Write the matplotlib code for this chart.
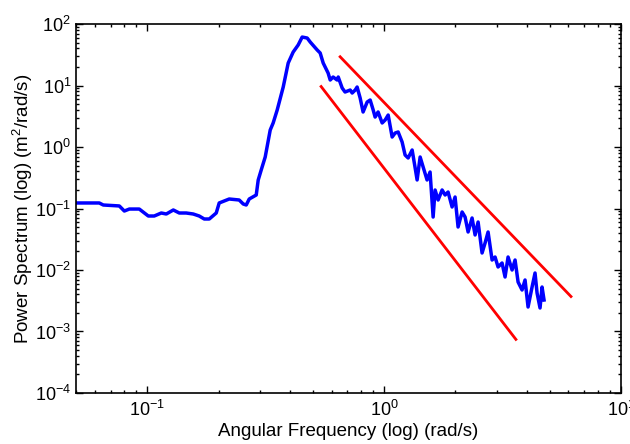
import numpy as np
import matplotlib
matplotlib.use("Agg")
from matplotlib import pyplot as plt

# spectrum (angular frequency rad/s, power m^2/rad/s)
freq = [0.0502, 0.0627, 0.0652, 0.0762, 0.080, 0.0840, 0.0925, 0.101, 0.107,
        0.1146, 0.1203, 0.1288, 0.1365, 0.146, 0.1563, 0.1657, 0.174, 0.1827,
        0.1955, 0.2012, 0.2218, 0.2444, 0.2542, 0.2617, 0.2694, 0.2884, 0.294,
        0.3027, 0.3147, 0.3304, 0.340, 0.3536, 0.3749, 0.3935, 0.413, 0.4336,
        0.4508, 0.4733, 0.4874, 0.5217,
        0.537, 0.553, 0.580, 0.592, 0.609, 0.633, 0.640, 0.665, 0.684, 0.719,
        0.733, 0.755, 0.769, 0.792, 0.815, 0.848, 0.873, 0.899, 0.916, 0.943,
        0.981, 1.010, 1.040, 1.081, 1.113, 1.146, 1.191, 1.226, 1.263, 1.313,
        1.352, 1.378, 1.419, 1.461, 1.518, 1.563, 1.610, 1.641, 1.690, 1.757,
        1.809, 1.862, 1.936, 1.993, 2.052, 2.134, 2.197, 2.262, 2.351, 2.421,
        2.493, 2.591, 2.668, 2.747, 2.856, 2.940, 3.027, 3.147, 3.240, 3.336,
        3.469, 3.571, 3.677, 3.822, 3.935, 4.052, 4.213, 4.336, 4.422, 4.552,
        4.642, 4.733]
power = [0.123, 0.123, 0.114, 0.110, 0.091, 0.098, 0.098, 0.0755, 0.0755,
         0.0845, 0.0814, 0.0946, 0.0845, 0.0845, 0.0814, 0.0755, 0.0675, 0.0675,
         0.0845, 0.123, 0.1427, 0.1375, 0.1184, 0.114, 0.1427, 0.1658, 0.2905,
         0.4227, 0.688, 1.89, 2.46, 4.0, 9.45, 23.2, 35.0, 45.6,
         61.4, 59.2, 51.0, 37.8,
         33.8, 23.2, 15.97, 12.29, 13.75, 12.29, 13.75, 9.11, 7.84, 8.45,
         7.55, 8.45, 9.45, 6.26, 3.71, 5.39, 5.81, 4.00, 3.07, 3.71,
         2.46, 2.75, 3.31, 1.454, 1.689, 1.754, 1.206, 0.741, 0.663, 0.894,
         0.456, 0.291, 0.688, 0.473, 0.291, 0.392, 0.0727, 0.200, 0.1375, 0.200,
         0.1658, 0.1855, 0.1058, 0.1538, 0.0500, 0.0877, 0.0727, 0.0415, 0.0701, 0.0371,
         0.0603, 0.0189, 0.0275, 0.0415, 0.01454, 0.01627, 0.01119, 0.0130, 0.00769, 0.01627,
         0.0100, 0.01454, 0.00638, 0.00473, 0.00688, 0.00250, 0.00529, 0.00894, 0.00423, 0.00241,
         0.00529, 0.00325]

# reference power laws
upper_f = [0.652, 6.15]
upper_coef, upper_exp = 5.3, -4
lower_f = [0.542, 3.6]
lower_coef, lower_exp = 0.45, -5

plt.rcParams['font.family'] = ['Liberation Sans', 'DejaVu Sans']
plt.rcParams['mathtext.fontset'] = 'custom'
plt.rcParams['mathtext.rm'] = 'Liberation Sans'

fig = plt.figure(figsize=(6.3, 4.44), dpi=100)
ax = fig.add_axes([0.1206, 0.1149, 0.8651, 0.831])

ax.loglog(freq, power, color=(0, 0, 1), lw=2.5)
uf = np.array(upper_f)
lf = np.array(lower_f)
ax.loglog(uf, upper_coef * uf ** upper_exp, color=(1, 0, 0), lw=2)
ax.loglog(lf, lower_coef * lf ** lower_exp, color=(1, 0, 0), lw=2)

ax.set_xlim(0.05, 10)
ax.set_ylim(1e-4, 1e2)
ax.tick_params(which='both', direction='in', top=True, right=True, labelsize=13)
ax.tick_params(which='major', length=5, width=1)
ax.tick_params(which='minor', length=2.5, width=1)
ax.tick_params(axis='x', pad=5)
for s in ax.spines.values():
    s.set_linewidth(1.2)

ax.set_xlabel("Angular Frequency (log) (rad/s)", fontsize=13.5, labelpad=2)
ax.set_ylabel("Power Spectrum (log) (m$^2$/rad/s)", fontsize=13.5, labelpad=0)

fig.savefig("out.png", dpi=100)
